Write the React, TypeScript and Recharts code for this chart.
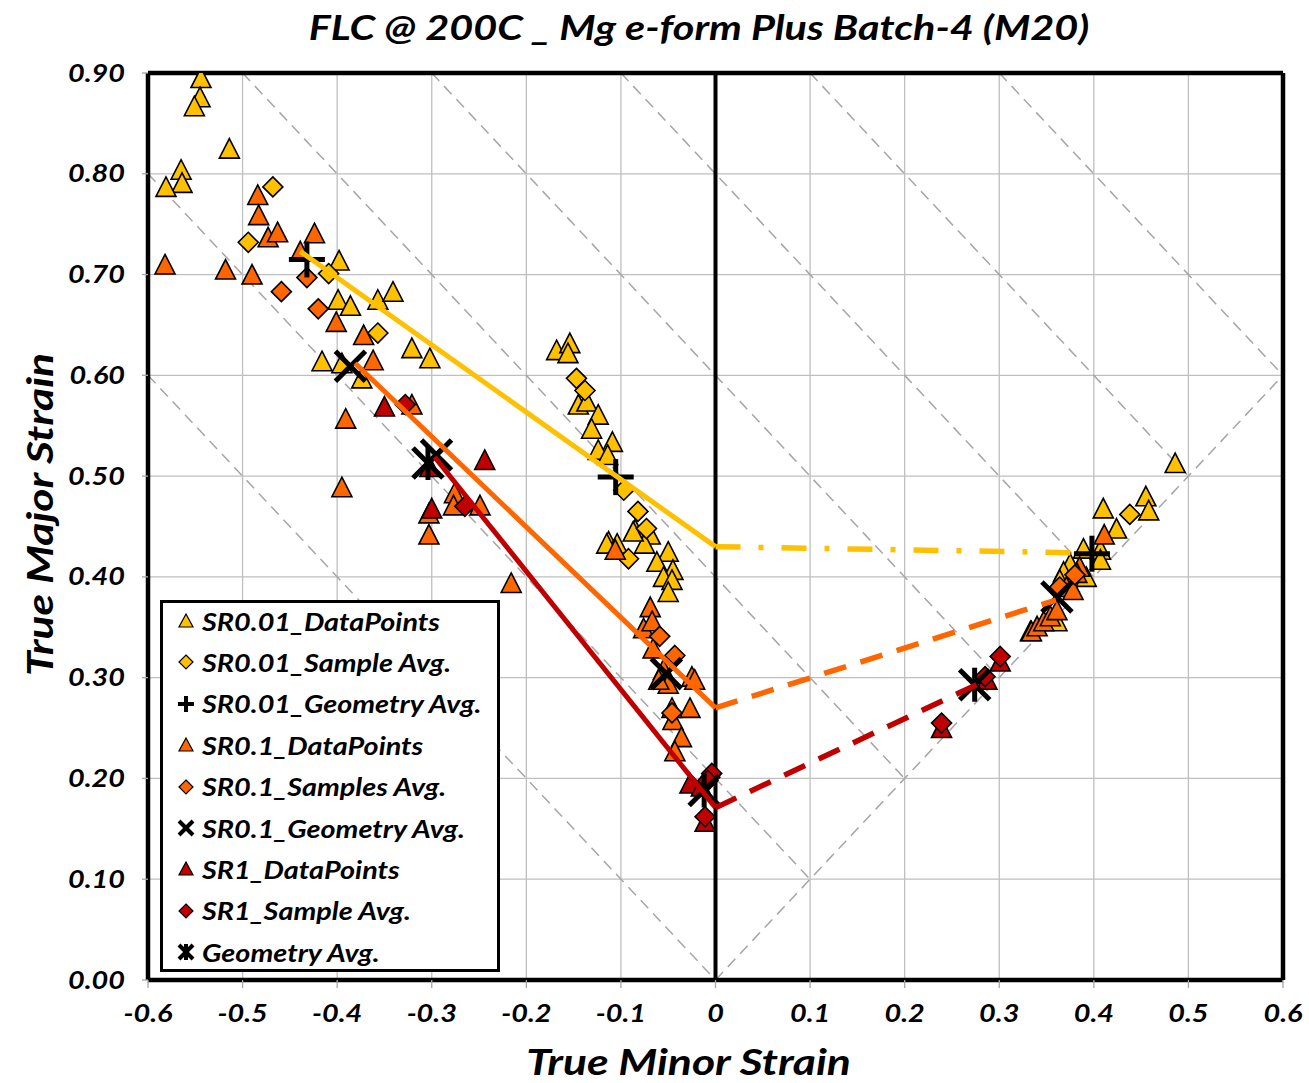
import React from 'react';
import { ScatterChart, Scatter, XAxis, YAxis, CartesianGrid, ReferenceLine, Legend } from 'recharts';

type P = [number, number];

const FONT = 'Lato, "Open Sans", "DejaVu Sans", sans-serif';
const GOLD = '#FFC000';
const ORANGE = '#FF6600';
const DARKRED = '#C00000';
const STRETCH = 1.2;

const chartTitle = 'FLC @ 200C _ Mg e-form Plus Batch-4 (M20)';
const xAxisTitle = 'True Minor Strain';
const yAxisTitle = 'True Major Strain';

const xTicks = [-0.6, -0.5, -0.4, -0.3, -0.2, -0.1, 0, 0.1, 0.2, 0.3, 0.4, 0.5, 0.6];
const yTicks = [0, 0.1, 0.2, 0.3, 0.4, 0.5, 0.6, 0.7, 0.8, 0.9];
// constant-thickness guide lines: major + minor = c
const thicknessOffsets = [0, 0.2, 0.4, 0.6, 0.8, 1.0, 1.2];

const sr001Points: P[] = [
  [-0.544, 0.895], [-0.545, 0.876], [-0.551, 0.867], [-0.514, 0.825], [-0.565, 0.804], [-0.564, 0.791], [-0.581, 0.787],
  [-0.398, 0.714], [-0.399, 0.675], [-0.386, 0.669], [-0.357, 0.675], [-0.341, 0.683], [-0.321, 0.627], [-0.302, 0.617],
  [-0.416, 0.614], [-0.395, 0.612], [-0.374, 0.597],
  [-0.168, 0.625], [-0.154, 0.632], [-0.156, 0.622], [-0.145, 0.571], [-0.136, 0.574], [-0.124, 0.561], [-0.131, 0.547],
  [-0.109, 0.534], [-0.124, 0.526], [-0.114, 0.521],
  [-0.085, 0.447], [-0.069, 0.442], [-0.075, 0.433], [-0.087, 0.445], [-0.113, 0.435], [-0.104, 0.433], [-0.115, 0.433],
  [-0.050, 0.425], [-0.062, 0.415], [-0.045, 0.407], [-0.055, 0.400], [-0.046, 0.397], [-0.050, 0.385],
  [0.486, 0.513], [0.455, 0.480], [0.458, 0.466], [0.410, 0.468], [0.424, 0.448], [0.407, 0.427], [0.389, 0.428],
  [0.407, 0.417], [0.375, 0.413], [0.368, 0.405], [0.392, 0.400], [0.364, 0.397], [0.333, 0.346], [0.361, 0.356],
];
const sr001Avg: P[] = [
  [-0.468, 0.787], [-0.494, 0.732], [-0.409, 0.701], [-0.357, 0.642], [-0.147, 0.597], [-0.138, 0.585],
  [-0.097, 0.486], [-0.082, 0.465], [-0.073, 0.448], [-0.092, 0.418], [0.438, 0.462],
];
const sr001Geo: P[] = [[-0.432, 0.715], [-0.1055, 0.499], [0.398, 0.423]];

const sr01Points: P[] = [
  [-0.484, 0.779], [-0.483, 0.759], [-0.473, 0.737], [-0.463, 0.742], [-0.424, 0.741], [-0.439, 0.723], [-0.582, 0.710],
  [-0.518, 0.705], [-0.490, 0.700], [-0.401, 0.653], [-0.372, 0.640], [-0.362, 0.615], [-0.391, 0.557], [-0.395, 0.489],
  [-0.321, 0.571], [-0.303, 0.463], [-0.303, 0.442], [-0.276, 0.483], [-0.277, 0.471], [-0.249, 0.471], [-0.216, 0.394],
  [-0.106, 0.427], [-0.069, 0.370], [-0.076, 0.349], [-0.067, 0.356], [-0.066, 0.329], [-0.055, 0.308], [-0.050, 0.294],
  [-0.060, 0.298], [-0.025, 0.301], [-0.022, 0.298], [-0.027, 0.270], [-0.046, 0.270], [-0.045, 0.258], [-0.036, 0.241],
  [-0.043, 0.227],
  [0.411, 0.442], [0.385, 0.410], [0.382, 0.404], [0.371, 0.390], [0.378, 0.387], [0.334, 0.346], [0.340, 0.351],
  [0.347, 0.356], [0.354, 0.361], [0.361, 0.367],
];
const sr01Avg: P[] = [
  [-0.432, 0.697], [-0.459, 0.683], [-0.420, 0.666], [-0.059, 0.341], [-0.043, 0.322], [-0.046, 0.265],
  [0.380, 0.402], [0.364, 0.390],
];
const sr01Geo: P[] = [[-0.386, 0.609], [-0.295, 0.521], [-0.052, 0.304], [0.361, 0.380]];

const sr1Points: P[] = [
  [-0.350, 0.569], [-0.302, 0.509], [-0.300, 0.468], [-0.244, 0.516], [-0.027, 0.195], [-0.015, 0.192], [-0.011, 0.157],
  [0.301, 0.316], [0.239, 0.250], [0.287, 0.298],
];
const sr1Avg: P[] = [
  [-0.328, 0.571], [-0.265, 0.470], [-0.004, 0.205], [-0.008, 0.198], [-0.011, 0.162],
  [0.301, 0.321], [0.239, 0.255], [0.285, 0.301],
];
const sr1Geo: P[] = [[-0.304, 0.513], [-0.012, 0.188], [0.274, 0.293]];

// FLC curves
const sr001CurveLeft: P[] = [[-0.439, 0.723], [0, 0.43]];
const sr001CurveRight: P[] = [[0, 0.43], [0.38, 0.424]];
const sr01CurveLeft: P[] = [[-0.381, 0.612], [0, 0.27]];
const sr01CurveRight: P[] = [[0, 0.27], [0.36, 0.377]];
const sr1CurveLeft: P[] = [[-0.297, 0.519], [0, 0.171]];
const sr1CurveRight: P[] = [[0, 0.171], [0.276, 0.293]];

const toObj = (pts: P[]) => pts.map(([x, y]) => ({ x, y }));

const X_MIN = -0.6, X_MAX = 0.6, Y_MAX = 0.9;
const guideSegments = [
  ...thicknessOffsets.map((c) => {
    const start = c + 0.6 <= Y_MAX ? { x: X_MIN, y: c - X_MIN } : { x: c - Y_MAX, y: Y_MAX };
    const end = { x: c / 2, y: c / 2 };
    return [start, end];
  }),
  [{ x: 0, y: 0 }, { x: X_MAX, y: X_MAX }],
];

const Triangle = (props: any) => {
  const { cx, cy, fill } = props;
  if (cx == null || cy == null) return <g />;
  return (
    <polygon
      points={`${cx},${cy - 10} ${cx + 10},${cy + 9.5} ${cx - 10},${cy + 9.5}`}
      fill={fill}
      stroke="#000"
      strokeWidth={1.6}
    />
  );
};
const Diamond = (props: any) => {
  const { cx, cy, fill } = props;
  if (cx == null || cy == null) return <g />;
  return (
    <polygon
      points={`${cx},${cy - 10} ${cx + 10},${cy} ${cx},${cy + 10} ${cx - 10},${cy}`}
      fill={fill}
      stroke="#000"
      strokeWidth={1.6}
    />
  );
};
const Plus = (props: any) => {
  const { cx, cy } = props;
  if (cx == null || cy == null) return <g />;
  return (
    <g stroke="#000" strokeWidth={5}>
      <line x1={cx - 18} x2={cx + 18} y1={cy} y2={cy} />
      <line x1={cx} x2={cx} y1={cy - 18} y2={cy + 18} />
    </g>
  );
};
const Cross = (props: any) => {
  const { cx, cy } = props;
  if (cx == null || cy == null) return <g />;
  return (
    <g stroke="#000" strokeWidth={5}>
      <line x1={cx - 15} x2={cx + 15} y1={cy - 15} y2={cy + 15} />
      <line x1={cx - 15} x2={cx + 15} y1={cy + 15} y2={cy - 15} />
    </g>
  );
};
const Star = (props: any) => {
  const { cx, cy } = props;
  if (cx == null || cy == null) return <g />;
  return (
    <g stroke="#000" strokeWidth={5}>
      <line x1={cx - 15} x2={cx + 15} y1={cy - 15} y2={cy + 15} />
      <line x1={cx - 15} x2={cx + 15} y1={cy + 15} y2={cy - 15} />
      <line x1={cx} x2={cx} y1={cy - 17} y2={cy + 17} />
    </g>
  );
};
const NoShape = () => <g />;

const legendItems = [
  { label: 'SR0.01_DataPoints', kind: 'triangle', color: GOLD },
  { label: 'SR0.01_Sample Avg.', kind: 'diamond', color: GOLD },
  { label: 'SR0.01_Geometry Avg.', kind: 'plus', color: '#000' },
  { label: 'SR0.1_DataPoints', kind: 'triangle', color: ORANGE },
  { label: 'SR0.1_Samples Avg.', kind: 'diamond', color: ORANGE },
  { label: 'SR0.1_Geometry Avg.', kind: 'cross', color: '#000' },
  { label: 'SR1_DataPoints', kind: 'triangle', color: DARKRED },
  { label: 'SR1_Sample Avg.', kind: 'diamond', color: DARKRED },
  { label: 'Geometry Avg.', kind: 'star', color: '#000' },
];

const LegendIcon = ({ kind, color }: { kind: string; color: string }) => {
  const c = 9;
  let el: React.ReactNode = null;
  if (kind === 'triangle') el = <polygon points={`${c},${c - 7} ${c + 7},${c + 6} ${c - 7},${c + 6}`} fill={color} stroke="#000" strokeWidth={1.2} />;
  if (kind === 'diamond') el = <polygon points={`${c},${c - 7} ${c + 7},${c} ${c},${c + 7} ${c - 7},${c}`} fill={color} stroke="#000" strokeWidth={1.2} />;
  if (kind === 'plus') el = (
    <g stroke="#000" strokeWidth={4}>
      <line x1={c - 8} x2={c + 8} y1={c} y2={c} />
      <line x1={c} x2={c} y1={c - 8} y2={c + 8} />
    </g>
  );
  if (kind === 'cross') el = (
    <g stroke="#000" strokeWidth={4}>
      <line x1={c - 7} x2={c + 7} y1={c - 7} y2={c + 7} />
      <line x1={c - 7} x2={c + 7} y1={c + 7} y2={c - 7} />
    </g>
  );
  if (kind === 'star') el = (
    <g stroke="#000" strokeWidth={4}>
      <line x1={c - 7} x2={c + 7} y1={c - 7} y2={c + 7} />
      <line x1={c - 7} x2={c + 7} y1={c + 7} y2={c - 7} />
      <line x1={c} x2={c} y1={c - 8} y2={c + 8} />
    </g>
  );
  return <svg width={18} height={18} style={{ display: 'block' }}>{el}</svg>;
};

const renderLegend = () => (
  <div
    style={{
      position: 'relative',
      width: 340,
      height: 372,
      boxSizing: 'border-box',
      border: '3px solid #000',
      background: '#fff',
      fontFamily: FONT,
    }}
  >
    {legendItems.map((it, i) => (
      <div
        key={it.label}
        style={{
          position: 'absolute',
          left: 14,
          top: i * 41.4,
          height: 36,
          display: 'flex',
          alignItems: 'center',
          whiteSpace: 'nowrap',
        }}
      >
        <LegendIcon kind={it.kind} color={it.color} />
        <span
          style={{
            marginLeft: 7,
            fontSize: 24,
            fontWeight: 700,
            fontStyle: 'italic',
            color: '#000',
            display: 'inline-block',
            transform: `scaleX(${STRETCH})`,
            transformOrigin: 'left center',
          }}
        >
          {it.label}
        </span>
      </div>
    ))}
  </div>
);

const StretchText = ({ x, y, anchor, size, dy, rotate, children }: any) => (
  <text
    transform={`translate(${x},${y})${rotate ? ` rotate(${rotate})` : ''} scale(${STRETCH},1)`}
    textAnchor={anchor}
    dy={dy}
    fontFamily={FONT}
    fontSize={size}
    fontWeight={700}
    fontStyle="italic"
    fill="#000"
  >
    {children}
  </text>
);

const fmtX = (v: number) => (v === 0 ? '0' : v.toFixed(1));
const fmtY = (v: number) => v.toFixed(2);

const XTick = (props: any) => (
  <StretchText x={props.x} y={props.y} anchor="middle" size={24} dy="0.71em">
    {fmtX(props.payload.value)}
  </StretchText>
);
const YTick = (props: any) => (
  <StretchText x={props.x} y={props.y} anchor="end" size={24} dy="0.355em">
    {fmtY(props.payload.value)}
  </StretchText>
);

const XTitle = (props: any) => {
  const vb = props.viewBox || {};
  return (
    <StretchText x={vb.x + vb.width / 2 - 27} y={1075} anchor="middle" size={37}>
      {xAxisTitle}
    </StretchText>
  );
};
const YTitle = (props: any) => {
  const vb = props.viewBox || {};
  return (
    <StretchText x={53} y={vb.y + vb.height / 2 - 12} anchor="middle" size={37} rotate={-90}>
      {yAxisTitle}
    </StretchText>
  );
};

export default function App() {
  return (
    <div style={{ position: 'absolute', left: 0, top: 0, width: 1309, height: 1083, background: '#fff' }}>
      <svg width={1309} height={60} style={{ position: 'absolute', left: 0, top: 0 }}>
        <StretchText x={699} y={40} anchor="middle" size={34.5}>
          {chartTitle}
        </StretchText>
      </svg>
      <ScatterChart width={1309} height={1083} margin={{ top: 73, right: 26, bottom: 43, left: 68 }} style={{ position: 'absolute', left: 0, top: 0 }}>
        <CartesianGrid stroke="#BFBFBF" strokeWidth={1.3} />
        <XAxis
          type="number"
          dataKey="x"
          domain={[X_MIN, X_MAX]}
          ticks={xTicks}
          allowDataOverflow
          height={60}
          axisLine={false}
          tickLine={{ stroke: '#A6A6A6', strokeWidth: 1.3 }}
          tickSize={8}
          tickMargin={17}
          tick={<XTick />}
          interval={0}
          label={<XTitle />}
        />
        <YAxis
          type="number"
          dataKey="y"
          domain={[0, Y_MAX]}
          ticks={yTicks}
          allowDataOverflow
          width={80}
          axisLine={false}
          tickLine={{ stroke: '#A6A6A6', strokeWidth: 1.3 }}
          tickSize={6}
          tickMargin={17}
          tick={<YTick />}
          interval={0}
          label={<YTitle />}
        />
        {guideSegments.map((seg, i) => (
          <ReferenceLine key={'g' + i} segment={seg as any} stroke="#A6A6A6" strokeWidth={1.5} strokeDasharray="11 7" />
        ))}
        <ReferenceLine x={0} stroke="#000" strokeWidth={4} />
        <ReferenceLine x={X_MIN} stroke="#000" strokeWidth={4.5} />
        <ReferenceLine x={X_MAX} stroke="#000" strokeWidth={4.5} />
        <ReferenceLine y={0} stroke="#000" strokeWidth={4.5} />
        <ReferenceLine y={Y_MAX} stroke="#000" strokeWidth={4.5} />

        <Scatter name="SR0.01_DataPoints" data={toObj(sr001Points)} fill={GOLD} shape={Triangle} isAnimationActive={false} />
        <Scatter name="SR0.01_Sample Avg." data={toObj(sr001Avg)} fill={GOLD} shape={Diamond} isAnimationActive={false} />
        <Scatter name="SR0.1_DataPoints" data={toObj(sr01Points)} fill={ORANGE} shape={Triangle} isAnimationActive={false} />
        <Scatter name="SR0.1_Samples Avg." data={toObj(sr01Avg)} fill={ORANGE} shape={Diamond} isAnimationActive={false} />
        <Scatter name="SR1_DataPoints" data={toObj(sr1Points)} fill={DARKRED} shape={Triangle} isAnimationActive={false} />
        <Scatter name="SR1_Sample Avg." data={toObj(sr1Avg)} fill={DARKRED} shape={Diamond} isAnimationActive={false} />
        <Scatter name="SR0.01_Geometry Avg." data={toObj(sr001Geo)} fill="#000" shape={Plus} isAnimationActive={false} />
        <Scatter name="SR0.1_Geometry Avg." data={toObj(sr01Geo)} fill="#000" shape={Cross} isAnimationActive={false} />
        <Scatter name="Geometry Avg." data={toObj(sr1Geo)} fill="#000" shape={Star} isAnimationActive={false} />

        <Scatter data={toObj(sr001CurveLeft)} fill={GOLD} line={{ stroke: GOLD, strokeWidth: 5 }} shape={NoShape} legendType="none" isAnimationActive={false} />
        <Scatter data={toObj(sr001CurveRight)} fill={GOLD} line={{ stroke: GOLD, strokeWidth: 5.5, strokeDasharray: '25 18 5 18' }} shape={NoShape} legendType="none" isAnimationActive={false} />
        <Scatter data={toObj(sr01CurveLeft)} fill={ORANGE} line={{ stroke: ORANGE, strokeWidth: 5 }} shape={NoShape} legendType="none" isAnimationActive={false} />
        <Scatter data={toObj(sr01CurveRight)} fill={ORANGE} line={{ stroke: ORANGE, strokeWidth: 5.5, strokeDasharray: '23 15' }} shape={NoShape} legendType="none" isAnimationActive={false} />
        <Scatter data={toObj(sr1CurveLeft)} fill={DARKRED} line={{ stroke: DARKRED, strokeWidth: 5 }} shape={NoShape} legendType="none" isAnimationActive={false} />
        <Scatter data={toObj(sr1CurveRight)} fill={DARKRED} line={{ stroke: DARKRED, strokeWidth: 5.5, strokeDasharray: '23 15' }} shape={NoShape} legendType="none" isAnimationActive={false} />

        <Legend
          content={renderLegend}
          layout="horizontal"
          verticalAlign="middle"
          align="center"
          wrapperStyle={{ position: 'absolute', left: 160, top: 600, width: 340, height: 372 }}
        />
      </ScatterChart>
    </div>
  );
}
